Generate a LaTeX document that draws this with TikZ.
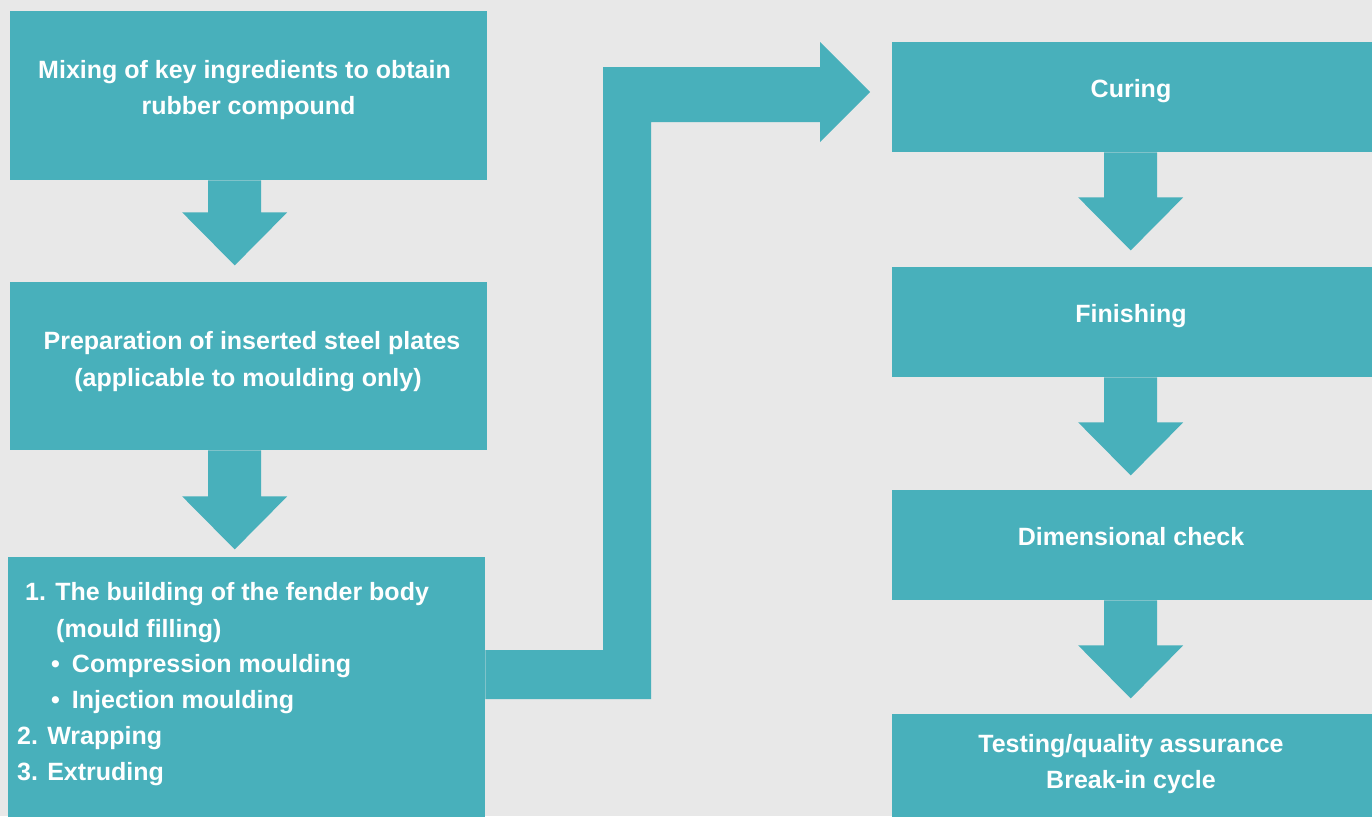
\documentclass[tikz,border=0pt]{standalone}
\usepackage{fontspec}
\setmainfont{Liberation Sans}
\usetikzlibrary{calc}
\definecolor{bg}{HTML}{E8E8E8}
\definecolor{tealc}{HTML}{48B0BB}
\tikzset{
  box/.style={fill=tealc, draw=none, inner sep=0pt, anchor=north west},
  lbl/.style={text=white, font=\bfseries\fontsize{25}{30}\selectfont, inner sep=0pt, anchor=base},
  lbll/.style={lbl, anchor=base west},
  blk/.style={fill=tealc, draw=none}
}
\newcommand{\downarr}[2]{%
  \fill[blk] ($(#1)+(-26.5,0)$) -- ++(0,#2) -- ++(-26,0) -- ++(52.5,53) -- ++(52.5,-53) -- ++(-26,0) -- ++(0,-#2) -- cycle;}
\begin{document}
\begin{tikzpicture}[x=1pt,y=-1pt]
\fill[bg] (0,0) rectangle (1372,816);
\useasboundingbox (0,0) rectangle (1372,816);
% left column
\node[box, minimum width=477, minimum height=169] (b1) at (10,11) {};
\node[box, minimum width=477, minimum height=168] (b2) at (10,282) {};
\node[box, minimum width=477, minimum height=262] (b3) at (8,557) {};
% right column
\node[box, minimum width=480, minimum height=110] (r1) at (892,42) {};
\node[box, minimum width=480, minimum height=110] (r2) at (892,267) {};
\node[box, minimum width=480, minimum height=110] (r3) at (892,490) {};
\node[box, minimum width=480, minimum height=105] (r4) at (892,714) {};
% arrows
\coordinate (a1) at ($(b1.south)+(-14,0)$);
\coordinate (a2) at ($(b2.south)+(-14,0)$);
\coordinate (a3) at ($(r1.south)+(-1.5,0)$);
\coordinate (a4) at ($(r2.south)+(-1.5,0)$);
\coordinate (a5) at ($(r3.south)+(-1.5,0)$);
\downarr{a1}{32}
\downarr{a2}{46}
\downarr{a3}{45}
\downarr{a4}{45}
\downarr{a5}{45}
% elbow connector
\coordinate (e0) at (b3.north east |- 0,650);
\fill[blk] (e0) -- (603,650) -- (603,67) -- (820,67) -- (820,42) -- (870,92) -- (820,142) -- (820,122) -- (651,122) -- (651,699) -- (e0 |- 0,699) -- cycle;
% texts
\node[lbl] (t1a) at (244.5,78) {Mixing of key ingredients to obtain};
\node[lbl] (t1b) at (248.5,114) {rubber compound};
\node[lbl] (t2a) at (252,349) {Preparation of inserted steel plates};
\node[lbl] (t2b) at (248,386) {(applicable to moulding only)};
\node[lbll] (t3a) at (25,600) {1. The building of the fender body};
\node[lbll] (t3b) at (56,637) {(mould filling)};
\node[lbll] (t3c) at (51,672) {•\hspace{12pt}Compression moulding};
\node[lbll] (t3d) at (51,708) {•\hspace{12pt}Injection moulding};
\node[lbll] (t3e) at (17,744) {2. Wrapping};
\node[lbll] (t3f) at (17,780) {3. Extruding};
\node[lbl] (tr1) at (1131,97) {Curing};
\node[lbl] (tr2) at (1131,322) {Finishing};
\node[lbl] (tr3) at (1131,545) {Dimensional check};
\node[lbl] (tr4a) at (1131,752) {Testing/quality assurance};
\node[lbl] (tr4b) at (1131,788) {Break-in cycle};
\end{tikzpicture}
\end{document}
